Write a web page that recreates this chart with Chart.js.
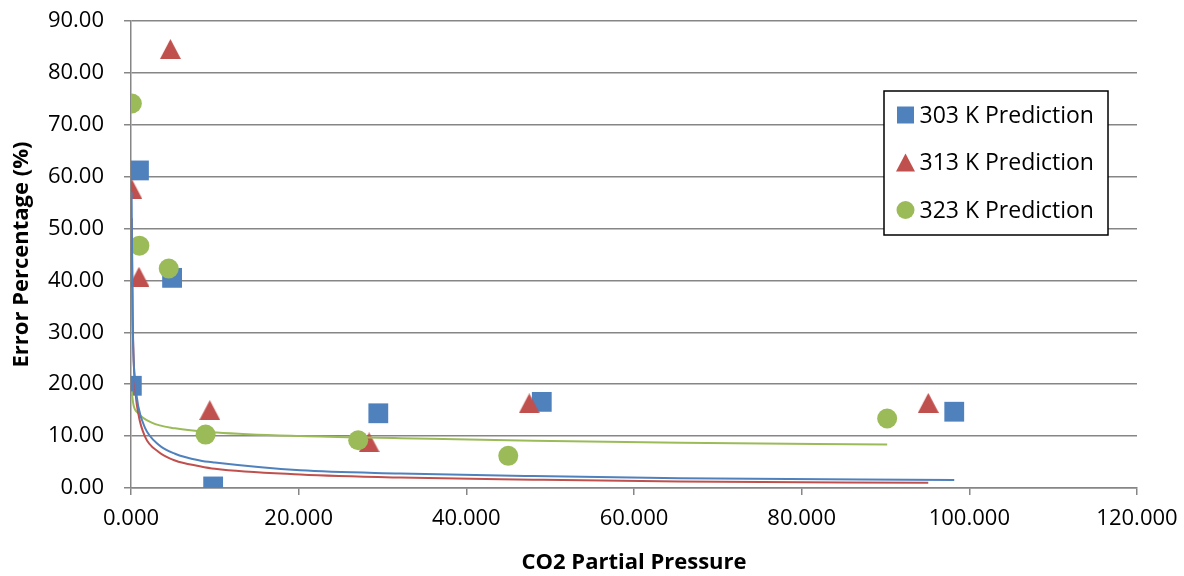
<!DOCTYPE html>
<html>
<head>
<meta charset="utf-8">
<script src="https://cdn.jsdelivr.net/npm/chart.js@4.4.1/dist/chart.umd.min.js"></script>
<style>
  html, body { margin: 0; padding: 0; background: #fff; }
  #wrap { width: 1184px; height: 576px; }
</style>
</head>
<body>
<div id="wrap"><canvas id="chart"></canvas></div>
<script>
// series names / colours
const seriesNames = ['303 K Prediction', '313 K Prediction', '323 K Prediction'];
const seriesColors = ['#4F81BD', '#C0504D', '#9BBB59'];

// measured points (x = CO2 partial pressure, y = error %)
const x303 = [0.1, 0.95, 4.9, 9.8, 29.5, 49.0, 98.2];
const y303 = [19.7, 61.2, 40.5, 0.3, 14.4, 16.6, 14.7];
const x313 = [0.1, 0.95, 4.7, 9.4, 28.4, 47.5, 95.1];
const y313 = [57.6, 40.7, 84.6, 15.0, 8.8, 16.3, 16.4];
const x323 = [0.1, 1.0, 4.5, 8.9, 27.1, 45.0, 90.2];
const y323 = [74.1, 46.7, 42.3, 10.3, 9.2, 6.2, 13.4];

// trend lines
const trendX303 = [0.07, 0.2, 0.56, 0.87, 1.67, 3.26, 5.25, 8.2, 10.0, 20.2, 32.1, 48.0, 65.5, 98.2];
const trendY303 = [57.0, 32.0, 19.6, 15.7, 11.6, 8.4, 6.6, 5.3, 4.9, 3.4, 2.8, 2.3, 1.9, 1.55];
const trendX313 = [0.09, 0.2, 0.5, 0.87, 1.67, 3.26, 5.25, 8.2, 10.0, 20.2, 32.1, 48.0, 65.5, 95.1];
const trendY313 = [52.0, 33.0, 19.5, 14.4, 9.9, 7.0, 5.3, 4.2, 3.7, 2.6, 2.0, 1.6, 1.25, 1.0];
const trendX323 = [0.08, 0.3, 0.87, 2.47, 5.25, 10.2, 20.2, 32.1, 48.0, 65.5, 90.2];
const trendY323 = [18.6, 16.0, 14.4, 12.6, 11.5, 10.7, 10.0, 9.6, 9.1, 8.7, 8.4];

// axes
const xMin = 0, xMax = 120, xStep = 20;
const yMin = 0, yMax = 90, yStep = 10;
const xTitle = 'CO2 Partial Pressure';
const yTitle = 'Error Percentage (%)';

const toPts = (xs, ys) => xs.map((x, i) => ({ x: x, y: ys[i] }));

const FONT = '"Open Sans", "Liberation Sans", sans-serif';
const GRID = '#868686';

// Excel style triangle marker (as wide as it is tall, centred on its box)
function triangleMarker(w, h, color) {
    const c = document.createElement('canvas');
    c.width = w; c.height = h;
    const g = c.getContext('2d');
    g.fillStyle = color;
    g.beginPath();
    g.moveTo(w / 2, 0); g.lineTo(w, h); g.lineTo(0, h);
    g.closePath();
    g.fill();
    return c;
}
const pointStyles = ['rect', triangleMarker(21, 20, seriesColors[1]), 'circle'];
const pointSizes = [14, 10, 10];

function trend(xs, ys, color) {
    return {
        type: 'line', data: toPts(xs, ys), borderColor: color, borderWidth: 2,
        pointRadius: 0, fill: false, cubicInterpolationMode: 'monotone', order: 0
    };
}
function points(idx, xs, ys) {
    return {
        type: 'scatter', label: seriesNames[idx], data: toPts(xs, ys),
        pointStyle: pointStyles[idx], pointRadius: pointSizes[idx],
        backgroundColor: seriesColors[idx], borderColor: seriesColors[idx],
        borderWidth: 0, order: 3 - idx
    };
}

// legend box drawn inside the plot area, like the Excel original
const boxLegend = {
    id: 'boxLegend',
    afterDraw(chart) {
        const { ctx, chartArea } = chart;
        const left = chartArea.right - 253, top = chartArea.top + 70;
        const w = 224, h = 144, rowH = 47.5;
        ctx.save();
        ctx.fillStyle = '#fff';
        ctx.fillRect(left, top, w, h);
        ctx.strokeStyle = '#000';
        ctx.lineWidth = 1.5;
        ctx.strokeRect(left, top, w, h);
        ctx.font = '23px ' + FONT;
        ctx.textBaseline = 'middle';
        seriesNames.forEach((name, i) => {
            const cy = top + 24 + i * rowH, cx = left + 21.5;
            ctx.fillStyle = seriesColors[i];
            ctx.beginPath();
            if (i === 0) ctx.rect(cx - 8.5, cy - 8.5, 17, 17);
            else if (i === 1) { ctx.moveTo(cx, cy - 9); ctx.lineTo(cx + 9.5, cy + 9); ctx.lineTo(cx - 9.5, cy + 9); ctx.closePath(); }
            else ctx.arc(cx, cy, 9, 0, Math.PI * 2);
            ctx.fill();
            ctx.fillStyle = '#000';
            ctx.fillText(name, cx + 14, cy + 1);
        });
        ctx.restore();
    }
};

new Chart(document.getElementById('chart'), {
    type: 'scatter',
    data: {
        datasets: [
            trend(trendX303, trendY303, seriesColors[0]),
            trend(trendX313, trendY313, seriesColors[1]),
            trend(trendX323, trendY323, seriesColors[2]),
            points(0, x303, y303),
            points(1, x313, y313),
            points(2, x323, y323)
        ]
    },
    options: {
        responsive: true,
        maintainAspectRatio: false,
        animation: false,
        layout: { padding: { top: 21, right: 47, left: 0, bottom: 0 } },
        plugins: { legend: { display: false }, tooltip: { enabled: false } },
        scales: {
            x: {
                type: 'linear', min: xMin, max: xMax,
                afterFit: s => { s.height = 88; s.paddingLeft = 0; s.paddingRight = 0; },
                ticks: { stepSize: xStep, color: '#000', padding: 11, maxRotation: 0,
                         font: { family: FONT, size: 22 }, callback: v => v.toFixed(3) },
                grid: { drawOnChartArea: false, drawTicks: true, tickLength: 7, color: GRID, lineWidth: 1.5 },
                border: { color: GRID, width: 1.5 },
                title: { display: true, text: xTitle, color: '#000', padding: { top: 0, bottom: 0 },
                         font: { family: FONT, size: 22, weight: 'bold' } }
            },
            y: {
                type: 'linear', min: yMin, max: yMax,
                afterFit: s => { s.width = 131; s.paddingTop = 0; s.paddingBottom = 0; },
                ticks: { stepSize: yStep, color: '#000', padding: 20,
                         font: { family: FONT, size: 22 }, callback: v => v.toFixed(2) },
                grid: { drawTicks: true, tickLength: 7, color: GRID, lineWidth: 1.5 },
                border: { color: GRID, width: 1.5 },
                title: { display: true, text: yTitle, color: '#000', padding: { top: 9, bottom: 0 },
                         font: { family: FONT, size: 22, weight: 'bold' } }
            }
        }
    },
    plugins: [boxLegend]
});
</script>
</body>
</html>
